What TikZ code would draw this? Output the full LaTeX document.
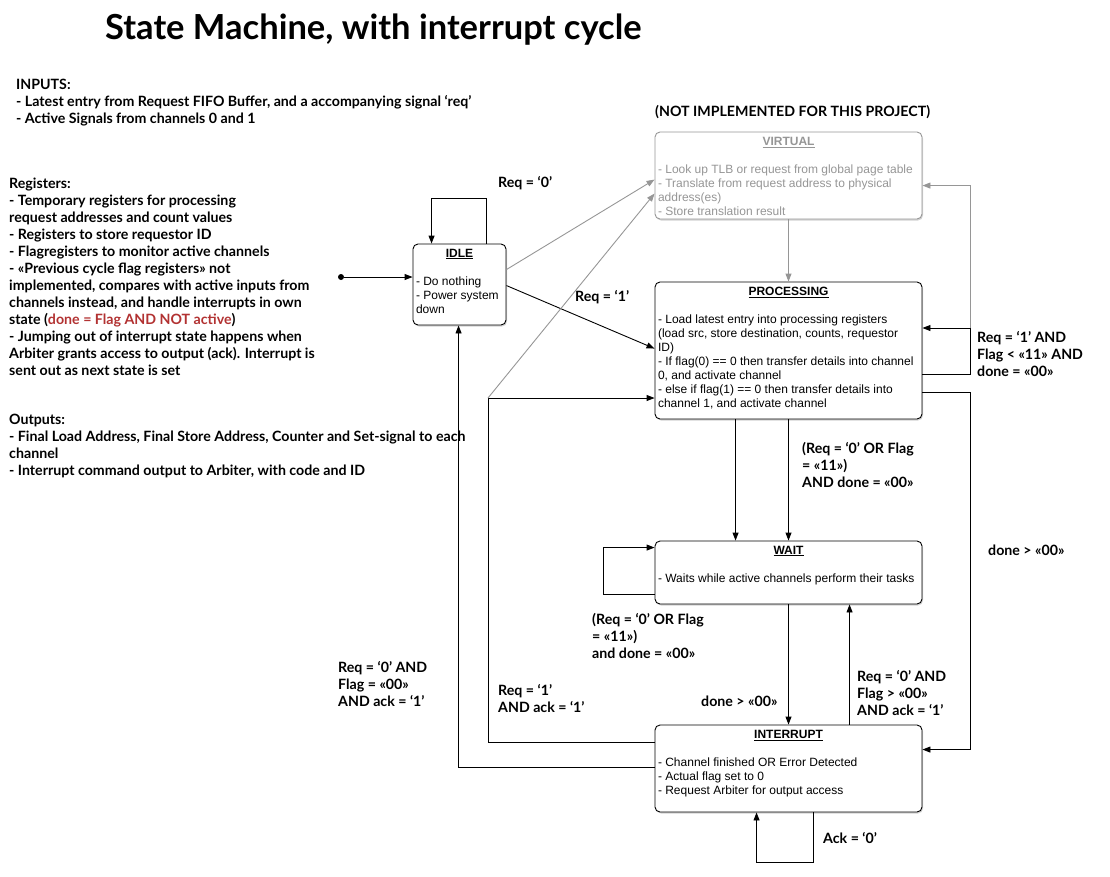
\documentclass[tikz,border=0pt]{standalone}
\usepackage{fontspec}
\usepackage{xcolor}
\usepackage{tikz}
\usetikzlibrary{positioning,arrows.meta,shadows,calc}
\newfontfamily\lblfont{Lato}
\newfontfamily\boxfont{Liberation Sans}
\definecolor{donered}{RGB}{178,50,50}
\definecolor{virtgray}{RGB}{150,150,150}
% state box contents: width, height, title, body
\newcommand{\stbody}[4]{%
    \parbox[c][#2][t]{#1}{\boxfont\fontsize{12}{14}\selectfont
        \vspace{5pt}%
        {\centering\underline{\textbf{#3}}\par}%
        \vspace{14pt}%
        \raggedright #4}}

\begin{document}
\begin{tikzpicture}[
        x=1pt, y=-1pt,
        state/.style ={draw, rounded corners=5pt, line width=0.9pt, fill=white,
                       drop shadow={shadow xshift=1pt, shadow yshift=-1.5pt, opacity=0.35},
                       inner xsep=3pt, inner ysep=0pt},
        vstate/.style={state, draw=virtgray, text=virtgray},
        arr/.style   ={-{Triangle[length=8pt,width=6pt]}, line width=0.9pt},
        garr/.style  ={arr, draw=virtgray},
        lbl/.style   ={font=\lblfont\bfseries\fontsize{14.2}{17}\selectfont,
                       align=left, anchor=west, inner sep=0pt},
        initdot/.style={circle, fill, inner sep=0pt, minimum size=6pt}
    ]
        \useasboundingbox (0,0) rectangle (1110,876);
        % title and notes
        \node[lbl, font=\lblfont\bfseries\fontsize{34.5}{40}\selectfont] (title) at (105,30)
            {State Machine, with interrupt cycle};
        \node[lbl] (inputs) at (16,103) {INPUTS:\\
            - Latest entry from Request FIFO Buffer, and a accompanying signal ‘req’\\
            - Active Signals from channels 0 and 1};
        \node[lbl] (regs) at (9,276.5) {Registers:\\
            - Temporary registers for processing\\
            request addresses and count values\\
            - Registers to store requestor ID\\
            - Flagregisters to monitor active channels\\
            - «Previous cycle flag registers» not\\
            implemented, compares with active inputs from\\
            channels instead, and handle interrupts in own\\
            state ({\color{donered}done = Flag AND NOT active})\\
            - Jumping out of interrupt state happens when\\
            Arbiter grants access to output (ack). Interrupt is\\
            sent out as next state is set};
        \node[lbl] (outputs) at (9,445.5) {Outputs:\\
            - Final Load Address, Final Store Address, Counter and Set-signal to each\\
            channel\\
            - Interrupt command output to Arbiter, with code and ID};
        \node[lbl] (notimpl) at (655,112) {(NOT IMPLEMENTED FOR THIS PROJECT)};

        % states
        \node[state] (idle) at (459.5,284.5)
            {\stbody{87pt}{81pt}{IDLE}{- Do nothing\\- Power system\\down}};
        \node[vstate] (virtual) at (788.5,175.5)
            {\stbody{261pt}{87pt}{VIRTUAL}{- Look up TLB or request from global page table\\
             - Translate from request address to physical\\address(es)\\
             - Store translation result}};
        \node[state] (proc) at (788.5,350.5)
            {\stbody{261pt}{137pt}{PROCESSING}{- Load latest entry into processing registers\\
             (load src, store destination, counts, requestor\\ID)\\
             - If flag(0) == 0 then transfer details into channel\\0, and activate channel\\
             - else if flag(1) == 0 then transfer details into\\channel 1, and activate channel}};
        \node[state] (wait) at (788.5,572.5)
            {\stbody{261pt}{63pt}{WAIT}{- Waits while active channels perform their tasks}};
        \node[state] (intr) at (788.5,768.5)
            {\stbody{261pt}{87pt}{INTERRUPT}{- Channel finished OR Error Detected\\
             - Actual flag set to 0\\- Request Arbiter for output access}};

        % initial state
        \node[initdot] (start) at (341,277) {};
        \draw[arr] (start) -- (start -| idle.west);

        % idle
        \draw[arr] ([xshift=74pt]idle.north west) -- ++(0,-45) -| ([xshift=19pt]idle.north west);
        \draw[garr] ([yshift=-26pt]idle.north east) -- ([yshift=-48pt]virtual.north west);
        \draw[arr] ([yshift=-42pt]idle.north east) -- ([yshift=-67pt]proc.north west);
        \node[lbl] (l-req0) at (498,183) {Req = ‘0’};
        \node[lbl] (l-req1) at (575,297) {Req = ‘1’};

        % virtual
        \draw[garr] (virtual) -- (proc);

        % processing
        \coordinate (pl) at (970,328);
        \draw[arr] ([yshift=-93pt]proc.north east) -| (pl) -- (pl -| proc.east);
        \draw[garr] (pl) |- ([yshift=-54pt]virtual.north east);
        \draw[arr] ([yshift=-111pt]proc.north east) -- ++(48,0) |- ([yshift=-25pt]intr.north east);
        \draw[arr] ([xshift=81pt]proc.south west) -- ([xshift=81pt]wait.north west);
        \draw[arr] (proc) -- (wait);
        \node[lbl] (l-ploop) at (977,354) {Req = ‘1’ AND\\Flag < «11» AND\\done = «00»};
        \node[lbl] (l-pwait) at (802,465) {(Req = ‘0’ OR Flag\\= «11»)\\AND done = «00»};
        \node[lbl] (l-pint) at (988,550) {done > «00»};

        % wait
        \draw[arr] ([yshift=-54pt]wait.north west) -- ++(-51,0) |- ([yshift=-7pt]wait.north west);
        \draw[arr] (wait) -- (intr);
        \node[lbl] (l-wloop) at (592,636) {(Req = ‘0’ OR Flag\\= «11»)\\and done = «00»};
        \node[lbl] (l-wint) at (701,701) {done > «00»};

        % interrupt
        \coordinate (rj) at (488,398);
        \draw[arr] ([yshift=-18pt]intr.north west) -| (rj) -- (rj -| proc.west);
        \draw[garr] (rj) -- ([yshift=-62pt]virtual.north west);
        \draw[arr] ([xshift=195pt]intr.north west) -- ([xshift=195pt]wait.south west);
        \draw[arr] ([yshift=-43pt]intr.north west) -| ([xshift=46pt]idle.south west);
        \draw[arr] ([xshift=159pt]intr.south west) -- ++(0,50) -| ([xshift=102pt]intr.south west);
        \node[lbl] (l-iidle) at (338,684) {Req = ‘0’ AND\\Flag = «00»\\AND ack = ‘1’};
        \node[lbl] (l-iproc) at (498,699) {Req = ‘1’\\AND ack = ‘1’};
        \node[lbl] (l-iwait) at (857,693) {Req = ‘0’ AND\\Flag > «00»\\AND ack = ‘1’};
        \node[lbl] (l-iloop) at (823,838) {Ack = ‘0’};
\end{tikzpicture}
\end{document}
